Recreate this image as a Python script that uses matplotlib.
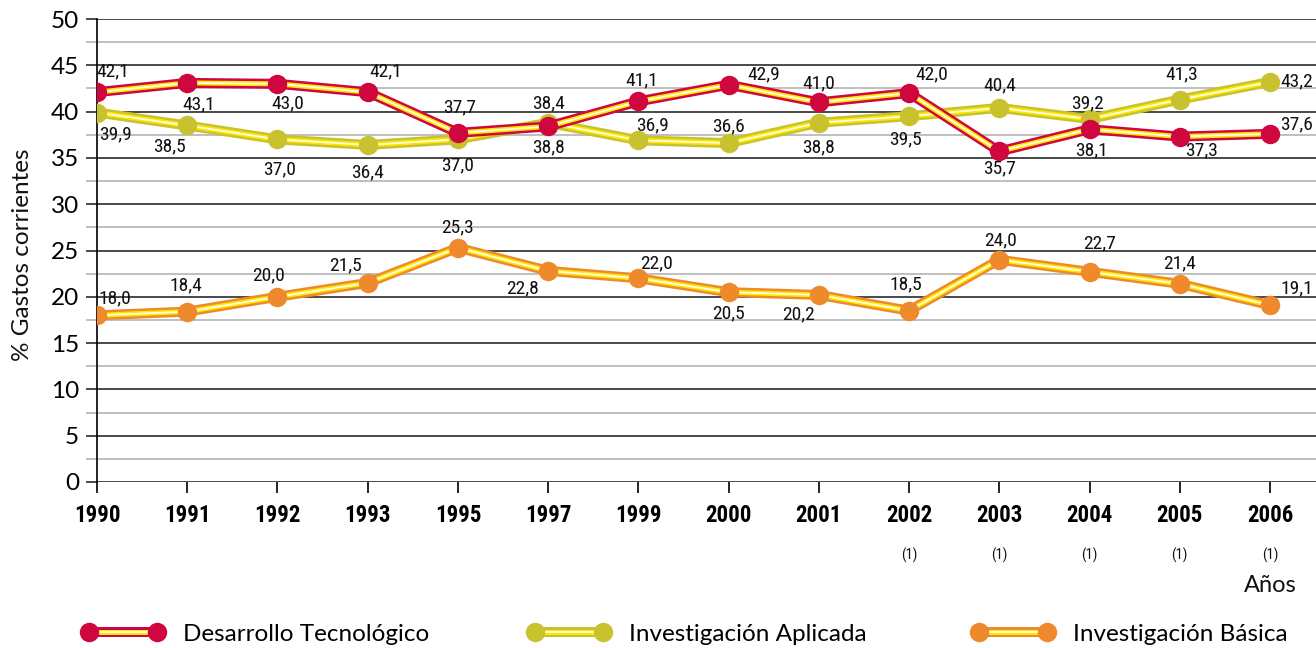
import matplotlib
matplotlib.use('Agg')
import matplotlib.pyplot as plt
from matplotlib import font_manager as fm
from matplotlib.legend_handler import HandlerTuple
from matplotlib.lines import Line2D
import matplotlib.transforms as mtransforms
from matplotlib.ticker import MultipleLocator

# ---------------- data ----------------
years = ['1990', '1991', '1992', '1993', '1995', '1997', '1999',
         '2000', '2001', '2002', '2003', '2004', '2005', '2006']
notes = ['', '', '', '', '', '', '', '', '', '(1)', '(1)', '(1)', '(1)', '(1)']
desarrollo = [42.1, 43.1, 43.0, 42.1, 37.7, 38.4, 41.1, 42.9, 41.0, 42.0, 35.7, 38.1, 37.3, 37.6]
aplicada = [39.9, 38.5, 37.0, 36.4, 37.0, 38.8, 36.9, 36.6, 38.8, 39.5, 40.4, 39.2, 41.3, 43.2]
basica = [18.0, 18.4, 20.0, 21.5, 25.3, 22.8, 22.0, 20.5, 20.2, 18.5, 24.0, 22.7, 21.4, 19.1]
series_names = ['Desarrollo Tecnológico', 'Investigación Aplicada', 'Investigación Básica']
y_label = '% Gastos corrientes'
x_label = 'Años'

# label offsets (pixels, dx right, dy up) -- placement only
off_des = [(16, 21), (12, -21), (10, -20), (18, 21), (2, 26), (0, 23), (3, 21),
           (35, 10), (0, 19), (23, 19), (0, -17), (2, -21), (22, -14), (27, 9)]
off_apl = [(18, -22), (-18, -21), (2, -30), (0, -27), (0, -26), (0, -25), (14, 15),
           (0, 17), (0, -25), (-4, -23), (0, 23), (-2, 16), (2, 25), (27, 1)]
off_bas = [(18, 17), (-1, 26), (-9, 21), (-22, 18), (0, 20), (-26, -17), (18, 15),
           (0, -21), (-20, -19), (-3, 26), (1, 19), (10, 28), (0, 20), (27, 17)]

# ---------------- fonts ----------------
avail = {f.name for f in fm.fontManager.ttflist}
def pick(*names):
    for n in names:
        if n in avail:
            return n
    return 'DejaVu Sans'
NARROW = pick('Liberation Sans Narrow', 'DejaVu Sans Condensed', 'Roboto Condensed', 'Liberation Sans')
MAIN = pick('Lato', 'Open Sans', 'DejaVu Sans')
plt.rcParams['font.family'] = [MAIN, 'DejaVu Sans']

# ---------------- figure ----------------
W, H = 1316, 648
fig = plt.figure(figsize=(W / 100, H / 100), dpi=100)
left_px, right_px, top_px, bot_px = 97, 1316, 19, 482
ax = fig.add_axes([left_px / W, 1 - bot_px / H, (right_px - left_px) / W, (bot_px - top_px) / H])

x = list(range(len(years)))
px_per_unit = (1270 - 97) / 13
ax.set_xlim(0, (right_px - left_px) / px_per_unit)
ax.set_ylim(0, 50)

# grid
ax.yaxis.set_major_locator(MultipleLocator(5))
ax.yaxis.set_minor_locator(MultipleLocator(2.5))
ax.grid(True, which='major', axis='y', color='#2a2a2a', lw=1.2, zorder=0)
ax.grid(True, which='minor', axis='y', color='#b4b4b4', lw=1.2, zorder=0)
ax.grid(False, axis='x')
for s in ['top', 'right', 'bottom']:
    ax.spines[s].set_visible(False)
ax.spines['left'].set_color('black')
ax.spines['left'].set_linewidth(1.2)

ax.tick_params(axis='y', which='major', length=8, width=1.2, color='#2a2a2a', pad=5,
               labelsize=17.5)
ax.tick_params(axis='y', which='minor', length=8, width=1.2, color='#b4b4b4')
ax.set_xticks(x)
ax.set_xticklabels(years, fontfamily=NARROW, fontweight='bold', fontsize=16.5)
ax.tick_params(axis='x', length=8, width=1.2, color='black', pad=8)

DPI_SCALE = 0.72  # px -> pt

colors = {'des': '#D0063F', 'apl': '#C9C22F', 'bas': '#EF8A2C'}
INNER = '#FFE800'
LW_OUT, LW_IN, LW_W, MS = 7.2, 3.6, 1.2, 14

def draw(vals, col, z, offs):
    ax.plot(x, vals, color=col, lw=LW_OUT, solid_joinstyle='miter', zorder=z)
    ax.plot(x, vals, color=INNER, lw=LW_IN, zorder=z + 0.1)
    ax.plot(x, vals, color='white', lw=LW_W, zorder=z + 0.2)
    ax.plot(x, vals, linestyle='none', marker='o', ms=MS, color=col, mec='none', zorder=z + 0.3)
    for xi, v, (dx, dy) in zip(x, vals, offs):
        ax.annotate(f"{v:.1f}".replace('.', ','), (xi, v), xytext=(dx * DPI_SCALE, dy * DPI_SCALE),
                    textcoords='offset points', ha='center', va='center',
                    fontfamily=NARROW, fontsize=14, color='#111111', zorder=10,
                    annotation_clip=False)

draw(basica, colors['bas'], 3, off_bas)
draw(aplicada, colors['apl'], 4, off_apl)
draw(desarrollo, colors['des'], 5, off_des)

# footnote marks under the years
tr = mtransforms.blended_transform_factory(ax.transData, fig.transFigure)
for xi, n in zip(x, notes):
    if n:
        ax.text(xi, 1 - 555 / H, n, transform=tr, ha='center', va='center',
                fontfamily=NARROW, fontsize=10.5, color='#111111')
ax.text(x[-1], 1 - 585 / H, x_label, transform=tr, ha='center', va='center',
        fontsize=17, color='#111111')

fig.text(23 / W, 1 - 255 / H, y_label, rotation=90, ha='center', va='center',
         fontsize=17.5, color='#111111')

# legend (three entries placed at fixed spots)
anchors = [82, 528, 972]
for name, key, ax_px in zip(series_names, ['des', 'apl', 'bas'], anchors):
    col = colors[key]
    h = (Line2D([], [], color=col, lw=LW_OUT),
         Line2D([], [], color=INNER, lw=LW_IN),
         Line2D([], [], color='white', lw=LW_W),
         Line2D([], [], linestyle='none', marker='o', ms=MS, color=col, mec='none'))
    fig.legend([h], [name], handler_map={tuple: HandlerTuple(ndivide=1, pad=0)},
               loc='center left', bbox_to_anchor=(ax_px / W, 1 - 634 / H),
               bbox_transform=fig.transFigure, frameon=False, numpoints=2,
               handlelength=3.4, handletextpad=0.76, borderpad=0, borderaxespad=0,
               fontsize=17.5)

fig.savefig('out.png', dpi=100)
